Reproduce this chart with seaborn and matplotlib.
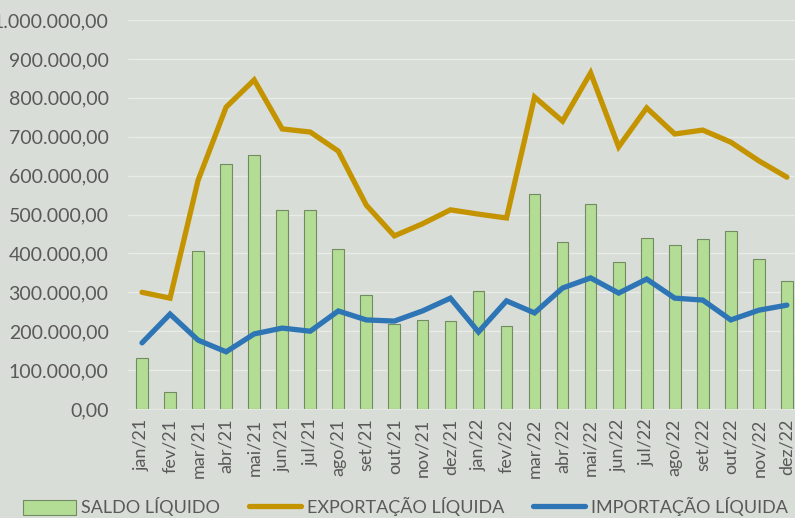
import numpy as np
import pandas as pd
import seaborn as sns
import matplotlib.pyplot as plt
from matplotlib.ticker import FuncFormatter, MultipleLocator
from matplotlib.patches import Patch
from matplotlib.lines import Line2D

# dados
meses = ['jan/21', 'fev/21', 'mar/21', 'abr/21', 'mai/21', 'jun/21', 'jul/21', 'ago/21',
         'set/21', 'out/21', 'nov/21', 'dez/21', 'jan/22', 'fev/22', 'mar/22', 'abr/22',
         'mai/22', 'jun/22', 'jul/22', 'ago/22', 'set/22', 'out/22', 'nov/22', 'dez/22']
saldo = [131000, 44000, 407000, 630000, 653000, 512000, 512000, 411000,
         293000, 218000, 229000, 226000, 303000, 213000, 553000, 429000,
         527000, 378000, 440000, 422000, 437000, 458000, 386000, 329000]
exportacao = [300000, 285000, 588000, 776000, 846000, 720000, 712000, 663000,
              524000, 445000, 476000, 512000, 501000, 491000, 802000, 740000,
              864000, 674000, 774000, 707000, 717000, 686000, 638000, 596000]
importacao = [170000, 244000, 177000, 147000, 193000, 208000, 200000, 252000,
              229000, 226000, 252000, 285000, 198000, 278000, 247000, 311000,
              337000, 298000, 334000, 285000, 280000, 229000, 254000, 267000]

BG = '#d9ddd7'
GOLD = '#c49400'
BLUE = '#2e75b6'
GREEN = '#b3dc94'
TXT = '#595959'

sns.set_style('white')
plt.rcParams['font.family'] = ['Lato', 'DejaVu Sans']

df = pd.DataFrame({'mes': meses, 'pos': range(len(meses)), 'saldo': saldo,
                   'exportacao': exportacao, 'importacao': importacao})

fig = plt.figure(figsize=(7.95, 5.18), dpi=100, facecolor=BG)
ax = fig.add_axes([128 / 795, 1 - 409 / 518, 1 - 128 / 795, 389 / 518])
ax.set_facecolor(BG)

sns.barplot(data=df, x='mes', y='saldo', color=GREEN, width=0.42, saturation=1,
            edgecolor='#708c60', linewidth=0.8, ax=ax, zorder=2)
sns.lineplot(x=df['pos'], y=df['exportacao'], color=GOLD, linewidth=3.8, sort=False,
             ax=ax, zorder=3, solid_capstyle='round', solid_joinstyle='miter')
sns.lineplot(x=df['pos'], y=df['importacao'], color=BLUE, linewidth=3.8, sort=False,
             ax=ax, zorder=4, solid_capstyle='round', solid_joinstyle='miter')

ax.set_ylim(0, 1000000)
ax.set_xlim(-0.5, 23.29)
ax.yaxis.set_major_locator(MultipleLocator(100000))


def fmt_br(v, _):
    s = f"{v:,.2f}"
    return s.replace(',', 'X').replace('.', ',').replace('X', '.')


ax.yaxis.set_major_formatter(FuncFormatter(fmt_br))
ax.grid(axis='y', color='#e8ebe6', linewidth=1, zorder=0)
ax.set_axisbelow(True)
for s in ['top', 'right', 'left']:
    ax.spines[s].set_visible(False)
ax.spines['bottom'].set_color('#e3e6e1')
ax.set_xlabel('')
ax.set_ylabel('')
ax.set_xticks(range(len(meses)))
ax.set_xticklabels(meses, rotation=90)
ax.tick_params(axis='y', length=0, pad=14, labelsize=14, labelcolor=TXT)
ax.tick_params(axis='x', length=0, pad=7, labelsize=13, labelcolor=TXT)

handles = [Patch(facecolor=GREEN, edgecolor='#708c60', linewidth=0.8),
           Line2D([0], [0], color=GOLD, linewidth=3.8, solid_capstyle='round'),
           Line2D([0], [0], color=BLUE, linewidth=3.8, solid_capstyle='round')]
labels = ['SALDO LÍQUIDO', 'EXPORTAÇÃO LÍQUIDA', 'IMPORTAÇÃO LÍQUIDA']
fig.legend(handles, labels, loc='lower center', bbox_to_anchor=(0.51, -0.028), ncol=3,
           frameon=False, fontsize=13, labelcolor=TXT, handlelength=2.9,
           handleheight=0.9, handletextpad=0.3, columnspacing=1.6)

fig.savefig('out.png', dpi=100, facecolor=BG)
